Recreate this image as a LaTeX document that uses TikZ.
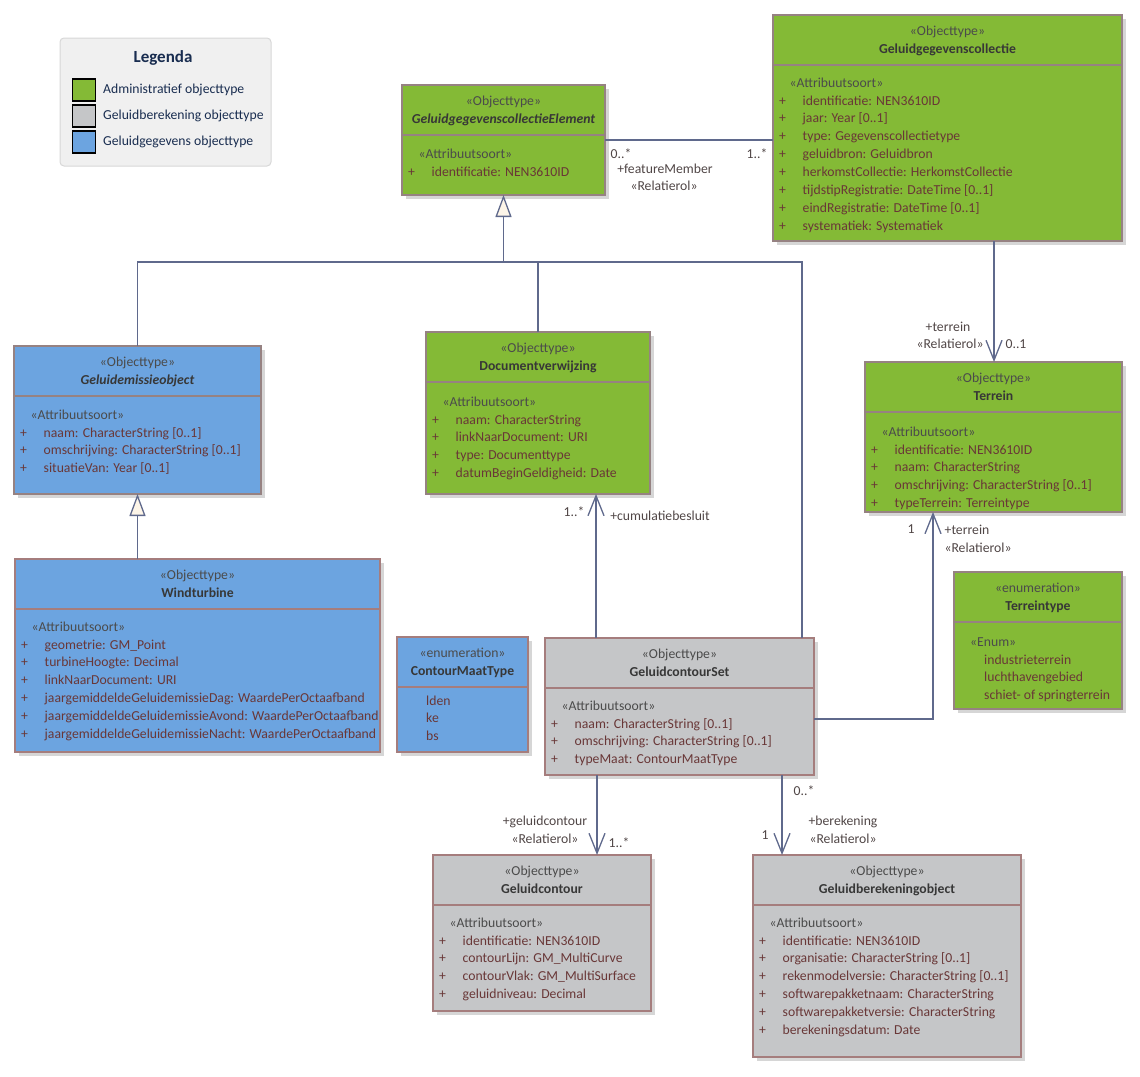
\documentclass[tikz,border=0pt]{standalone}
\usepackage{fontspec}
\setmainfont{Carlito}
\usepackage{tikz}
\usetikzlibrary{arrows.meta, shadows, calc}

\definecolor{admgreen}{RGB}{132,186,54}
\definecolor{calcgray}{RGB}{197,198,200}
\definecolor{datablue}{RGB}{108,164,224}
\definecolor{thickedge}{RGB}{150,130,130}
\definecolor{thinedge}{RGB}{165,125,125}
\definecolor{linecol}{RGB}{95,105,140}
\definecolor{attrcol}{RGB}{105,55,55}
\definecolor{stercol}{RGB}{75,75,75}
\definecolor{namecol}{RGB}{55,55,55}
\definecolor{lblcol}{RGB}{80,70,70}
\definecolor{legfill}{RGB}{240,240,240}
\definecolor{legedge}{RGB}{215,215,215}
\definecolor{legtext}{RGB}{25,45,80}
\definecolor{tipfill}{RGB}{253,245,232}

\newcommand{\umlfont}{\fontsize{13.7}{16}\selectfont}

% class box: name, x, y, width, height, fill, edge style, stereotype, title
\newcommand{\umlclass}[9]{%
  \node[clsbox, #7, fill=#6, minimum width=#4pt, minimum height=#5pt, anchor=north west] (#1) at (#2,#3) {};
  \draw[#7] ($(#1.north west)+(0,50)$) -- ($(#1.north east)+(0,50)$);
  \node[ster] (#1-st) at ($(#1.north)+(0,16.5)$) {#8};
  \node[cname] (#1-nm) at ($(#1.north)+(0,34)$) {#9};
}

% attributes: name, box left x, first line y, list
\newcommand{\attrlist}[4]{%
  \node[ster, anchor=west] (#1-as) at (#2+16.5, #3-17.9) {«Attribuutsoort»};
  \foreach \attrname [count=\attridx from 0] in {#4} {
    \node[attrplus] (#1-p\attridx) at (#2+9.5, #3+17.9*\attridx) {+};
    \node[attr] (#1-a\attridx) at (#2+29.5, #3+17.9*\attridx) {\attrname};
  }%
}

\begin{document}
\begin{tikzpicture}[x=1pt, y=-1pt, font=\umlfont,
    clsbox/.style={outer sep=0pt, drop shadow={shadow xshift=4pt, shadow yshift=-4pt, fill=black!16, opacity=1}},
    thickbox/.style={draw=thickedge, line width=2.6pt},
    thinbox/.style={draw=thinedge, line width=1.4pt},
    txt/.style={inner sep=0pt, text height=8pt, text depth=0pt},
    ster/.style={txt, text=stercol},
    cname/.style={txt, text=namecol, font=\umlfont\bfseries},
    attrplus/.style={txt, text=attrcol},
    attr/.style={txt, text=attrcol, anchor=west},
    lbl/.style={txt, text=lblcol},
    assoc/.style={draw=linecol, line width=1.3pt},
    nav/.style={assoc, -{Straight Barb[length=20pt, width=16pt]}},
    gen/.style={assoc, -{Triangle[length=22pt, width=16pt, fill=tipfill]}}]
    \useasboundingbox (0,0) rectangle (1140,1076);

    % legend
    \node[draw=legedge, fill=legfill, rounded corners=4pt, line width=1pt, outer sep=0pt, minimum width=211pt, minimum height=128pt, anchor=north west] (leg) at (60,38) {};
    \node[txt, text=legtext, font=\fontsize{17}{20}\selectfont\bfseries] (leg-t) at (163,58) {Legenda};
    \foreach \c/\t [count=\i from 0] in {admgreen/Administratief objecttype, calcgray/Geluidberekening objecttype, datablue/Geluidgegevens objecttype} {
        \node[draw=black, line width=1.3pt, fill=\c, minimum width=23pt, minimum height=22pt] (sw\i) at (84, 90+26*\i) {};
        \node[txt, text=legtext, anchor=west] (lt\i) at (103, 89+26*\i) {\t};
    }

    % classes
    \umlclass{ggce}{402}{85}{203}{110}{admgreen}{thickbox}{«Objecttype»}{\itshape GeluidgegevenscollectieElement}
    \attrlist{ggce}{402}{172}{identificatie: NEN3610ID}

    \umlclass{ggc}{773}{15}{349}{226}{admgreen}{thickbox}{«Objecttype»}{Geluidgegevenscollectie}
    \attrlist{ggc}{773}{101}{identificatie: NEN3610ID, jaar: Year [0..1], type: Gegevenscollectietype, geluidbron: Geluidbron, herkomstCollectie: HerkomstCollectie, tijdstipRegistratie: DateTime [0..1], eindRegistratie: DateTime [0..1], systematiek: Systematiek}

    \umlclass{geo}{14}{346}{247}{148}{datablue}{thickbox}{«Objecttype»}{\itshape Geluidemissieobject}
    \attrlist{geo}{14}{433}{naam: CharacterString [0..1], omschrijving: CharacterString [0..1], situatieVan: Year [0..1]}

    \umlclass{wind}{15}{559}{365}{193}{datablue}{thinbox}{«Objecttype»}{Windturbine}
    \attrlist{wind}{15}{645}{geometrie: GM\_Point, turbineHoogte: Decimal, linkNaarDocument: URI, jaargemiddeldeGeluidemissieDag: WaardePerOctaafband, jaargemiddeldeGeluidemissieAvond: WaardePerOctaafband, jaargemiddeldeGeluidemissieNacht: WaardePerOctaafband}

    \umlclass{dv}{426}{332}{224}{162}{admgreen}{thickbox}{«Objecttype»}{Documentverwijzing}
    \attrlist{dv}{426}{420}{naam: CharacterString, linkNaarDocument: URI, type: Documenttype, datumBeginGeldigheid: Date}

    \umlclass{cmt}{397}{637}{131}{115}{datablue}{thinbox}{«enumeration»}{ContourMaatType}
    \foreach \v [count=\i from 0] in {lden, ke, bs}
        \node[attr] (cmt-v\i) at (426, 701+17.9*\i) {\v};

    \umlclass{gcs}{545}{638}{269}{137}{calcgray}{thinbox}{«Objecttype»}{GeluidcontourSet}
    \attrlist{gcs}{545}{724}{naam: CharacterString [0..1], omschrijving: CharacterString [0..1], typeMaat: ContourMaatType}

    \umlclass{terrein}{865}{362}{257}{150}{admgreen}{thickbox}{«Objecttype»}{Terrein}
    \attrlist{terrein}{865}{450}{identificatie: NEN3610ID, naam: CharacterString, omschrijving: CharacterString [0..1], typeTerrein: Terreintype}

    \umlclass{tt}{954}{572}{168}{137}{admgreen}{thickbox}{«enumeration»}{Terreintype}
    \node[ster, anchor=west] (tt-en) at (970,642) {«Enum»};
    \foreach \v [count=\i from 0] in {industrieterrein, luchthavengebied, schiet- of springterrein}
        \node[attr] (tt-v\i) at (984, 660+17.9*\i) {\v};

    \umlclass{gc}{433}{855}{218}{156}{calcgray}{thinbox}{«Objecttype»}{Geluidcontour}
    \attrlist{gc}{433}{941}{identificatie: NEN3610ID, contourLijn: GM\_MultiCurve, contourVlak: GM\_MultiSurface, geluidniveau: Decimal}

    \umlclass{gbo}{753}{855}{268}{202}{calcgray}{thinbox}{«Objecttype»}{Geluidberekeningobject}
    \attrlist{gbo}{753}{941}{identificatie: NEN3610ID, organisatie: CharacterString [0..1], rekenmodelversie: CharacterString [0..1], softwarepakketnaam: CharacterString, softwarepakketversie: CharacterString, berekeningsdatum: Date}

    % connector points
    \coordinate (gj) at ($(ggce.south)+(0,67)$);
    \coordinate (gx) at (802,0);
    \coordinate (cx) at (596,0);
    \coordinate (tx) at (994,0);
    \coordinate (bend) at (933,719);
    \coordinate (cgx) at (597,0);
    \coordinate (bx) at (782,0);

    % generalizations
    \draw[assoc] (geo.north) |- (gj);
    \draw[assoc] (dv.north) |- (gj);
    \draw[assoc] (gcs.north -| gx) |- (gj);
    \draw[gen] (gj) -- (ggce.south);
    \draw[gen] (wind.north -| geo.south) -- (geo.south);

    % associations
    \draw[assoc] (ggce.east) -- (ggce.east -| ggc.west);
    \draw[nav] (gcs.north -| cx) -- (dv.south -| cx);
    \draw[nav] (ggc.south -| tx) -- (terrein.north -| tx);
    \draw[nav] (gcs.east |- bend) -- (bend) -- (bend |- terrein.south);
    \draw[nav] (gcs.south -| cgx) -- (gc.north -| cgx);
    \draw[nav] (gcs.south -| bx) -- (gbo.north -| bx);

    % role labels
    \node[lbl] (l-fm1) at (621,154) {0..*};
    \node[lbl] (l-fmr) at (665,169) {+featureMember};
    \node[lbl] (l-fms) at (664,186) {«Relatierol»};
    \node[lbl] (l-fm2) at (757,154) {1..*};
    \node[lbl] (l-cbm) at (574,512) {1..*};
    \node[lbl] (l-cbr) at (660,516) {+cumulatiebesluit};
    \node[lbl] (l-t1r) at (948,327) {+terrein};
    \node[lbl] (l-t1s) at (950,344) {«Relatierol»};
    \node[lbl] (l-t1m) at (1016,344) {0..1};
    \node[lbl] (l-t2m) at (911,529) {1};
    \node[lbl] (l-t2r) at (967,530) {+terrein};
    \node[lbl] (l-t2s) at (978,548) {«Relatierol»};
    \node[lbl] (l-gcr) at (545,821) {+geluidcontour};
    \node[lbl] (l-gcs) at (545,839) {«Relatierol»};
    \node[lbl] (l-gcm) at (619,843) {1..*};
    \node[lbl] (l-bm1) at (804,791) {0..*};
    \node[lbl] (l-bm2) at (765,835) {1};
    \node[lbl] (l-br) at (843,821) {+berekening};
    \node[lbl] (l-bs) at (843,839) {«Relatierol»};
\end{tikzpicture}
\end{document}
